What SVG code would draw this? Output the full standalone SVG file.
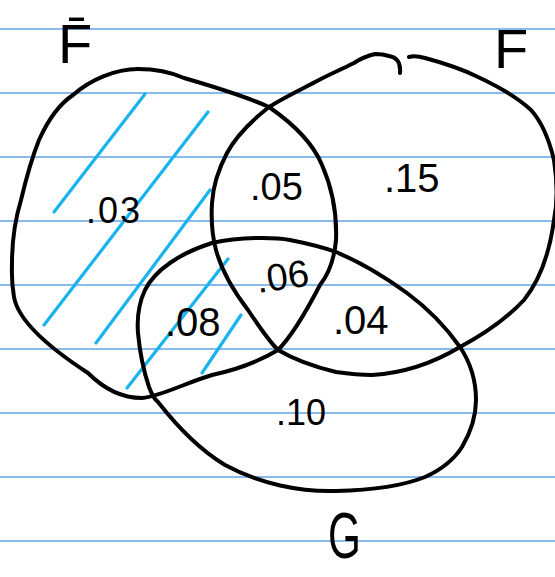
<svg xmlns="http://www.w3.org/2000/svg" width="555" height="577" viewBox="0 0 555 577">
<style>
.rule{stroke:#5fa3ea;stroke-width:1.5}
.ink{fill:none;stroke:#000;stroke-width:4;stroke-linecap:round;stroke-linejoin:round}
.hatch{fill:none;stroke:#19b3ef;stroke-width:3.2;stroke-linecap:round}
.num{font-family:"Liberation Sans","DejaVu Sans",sans-serif;fill:#000}
.lbl{font-family:"Liberation Sans","DejaVu Sans",sans-serif;fill:#000}
</style>
<rect x="0" y="0" width="555" height="577" fill="#fff"/>
<g id="paper">
<line class="rule" x1="0" y1="29" x2="555" y2="29"/>
<line class="rule" x1="0" y1="93" x2="555" y2="93"/>
<line class="rule" x1="0" y1="157" x2="555" y2="157"/>
<line class="rule" x1="0" y1="221" x2="555" y2="221"/>
<line class="rule" x1="0" y1="285" x2="555" y2="285"/>
<line class="rule" x1="0" y1="349" x2="555" y2="349"/>
<line class="rule" x1="0" y1="413" x2="555" y2="413"/>
<line class="rule" x1="0" y1="477" x2="555" y2="477"/>
<line class="rule" x1="0" y1="541" x2="555" y2="541"/>
</g>
<g id="hatching">
<line class="hatch" x1="145" y1="94" x2="54" y2="212"/>
<line class="hatch" x1="208" y1="112" x2="44" y2="325"/>
<line class="hatch" x1="210" y1="190" x2="96" y2="343"/>
<line class="hatch" x1="228" y1="259" x2="127" y2="388"/>
<line class="hatch" x1="241" y1="315" x2="202" y2="373"/>
</g>
<g id="set-left">
<path class="ink" d="M138,69 C160,69 175,74 184,78 C215,87 245,96 269,107 C295,125 313,143 322,165 C333,190 337,215 336,240 C334,262 328,275 320,285 C307,310 293,335 278,350 C258,362 235,370 212,375 C185,383 162,396 142,398 C118,398 100,385 88,373 C45,345 18,320 14,297 C11,280 12,270 12,263 C12,240 15,220 21,200 C27,175 33,155 39,140 C48,120 58,105 73,95 C90,80 115,69 138,69 Z"/>
<text class="lbl" x="58" y="63" font-size="56">F&#x0304;</text>
</g>
<g id="set-F">
<path class="ink" d="M400,73 C401,62 396,57 389,56 C383,54 378,54 375,54 C366,56 360,59 354,63 C340,70 330,74 319,80 C300,90 283,98 269,107 C250,122 235,138 227,153 C218,170 213,187 212,203 C211,220 212,235 216,250 C222,272 235,293 248,310 C258,325 268,340 278,350 C295,360 315,367 336,372 C350,374 362,375 372,375 C405,373 435,362 460,347 C488,332 510,315 524,300 C540,280 550,250 554,220 C558,200 557,180 554,160 C548,135 540,120 531,110 C515,95 495,85 478,77 C460,68 440,62 425,58 C418,56 412,56 409,57"/>
<text class="lbl" x="494" y="68" font-size="56">F</text>
</g>
<g id="set-G">
<path class="ink" d="M262,238 C240,238 225,240 212,243 C180,253 155,270 145,290 C138,305 137,320 138,333 C140,355 145,375 149,387 C152,395 155,400 158,402 C180,430 200,450 225,465 C260,484 300,492 336,491 C380,490 405,485 425,477 C445,468 455,458 462,447 C472,430 476,415 476,400 C476,380 470,362 460,347 C448,330 430,310 407,293 C385,277 360,262 336,252 C320,246 305,243 290,240 C280,238 270,238 262,238 Z"/>
<text class="lbl" transform="translate(328,558) scale(0.66,1)" font-size="64">G</text>
</g>
<g id="values">
<text class="num" x="86" y="223" font-size="36" letter-spacing="2">.03</text>
<text class="num" x="250" y="200" font-size="38">.05</text>
<text class="num" x="384" y="192" font-size="40">.15</text>
<text class="num" transform="translate(258,293) rotate(-8)" font-size="38">.06</text>
<text class="num" x="165" y="336" font-size="40">.08</text>
<text class="num" x="333" y="334" font-size="40">.04</text>
<text class="num" x="276" y="425" font-size="36">.10</text>
</g>
</svg>
